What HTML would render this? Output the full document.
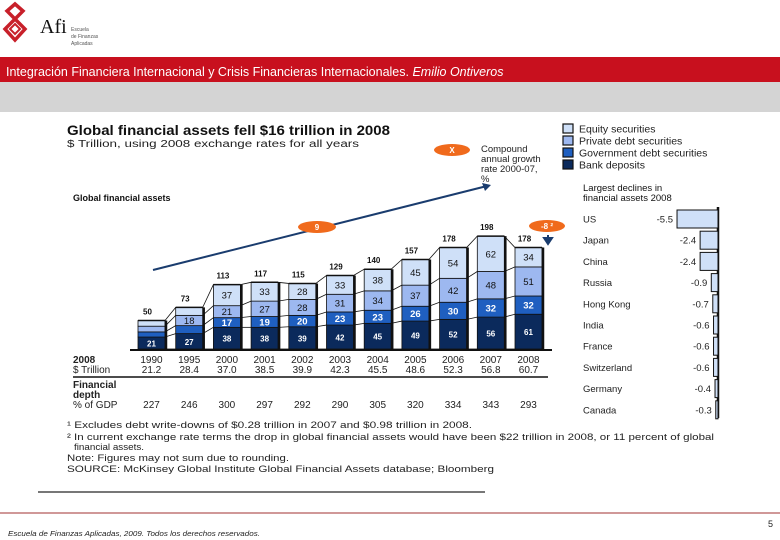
<!DOCTYPE html>
<html><head><meta charset="utf-8"><style>
html,body{margin:0;padding:0;width:780px;height:540px;overflow:hidden;background:#fff;font-family:"Liberation Sans",sans-serif}
svg{display:block}
</style></head><body>
<svg id="s" width="780" height="540" viewBox="0 0 780 540" xmlns="http://www.w3.org/2000/svg" font-family="Liberation Sans, sans-serif">
<g>
<path d="M15 4 L23 11 L15 19 L7 11 Z M15 19 L25 29 L15 40 L5 29 Z" fill="none" stroke="#c8202a" stroke-width="3.5"/>
<path d="M15 24 L20 29 L15 34 L10 29 Z" fill="none" stroke="#c8202a" stroke-width="2"/>
<text x="40" y="33" font-family="Liberation Serif, serif" font-size="20" fill="#111">Afi</text>
<text x="71" y="31" font-size="5" fill="#555">Escuela</text>
<text x="71" y="38" font-size="5" fill="#555">de Finanzas</text>
<text x="71" y="45" font-size="5" fill="#555">Aplicadas</text>
</g>
<rect x="0" y="57" width="780" height="25" fill="#c8101e"/>
<text x="6" y="76" font-size="12.5" fill="#fff">Integración Financiera Internacional y Crisis Financieras Internacionales. <tspan font-style="italic">Emilio Ontiveros</tspan></text>
<rect x="0" y="82" width="780" height="30" fill="#d4d4d4"/>

<text x="67" y="135" font-size="14" font-weight="bold" fill="#111" textLength="323" lengthAdjust="spacingAndGlyphs">Global financial assets fell $16 trillion in 2008</text>
<text x="67" y="147" font-size="10" fill="#222" textLength="292" lengthAdjust="spacingAndGlyphs">$ Trillion, using 2008 exchange rates for all years</text>
<text x="73" y="201" font-size="9" fill="#111" font-weight="bold">Global financial assets</text>

<g>
<line x1="153" y1="270" x2="487" y2="186" stroke="#1a3c6e" stroke-width="2"/>
<path d="M491 185 L482 183 L485 191 Z" fill="#1a3c6e"/>
</g>
<ellipse cx="317" cy="227" rx="19" ry="6" fill="#f06a1c"/>
<text x="317" y="230" font-size="8" font-weight="bold" fill="#fff" text-anchor="middle">9</text>
<ellipse cx="452" cy="150" rx="18" ry="6" fill="#f06a1c"/>
<text x="452" y="153" font-size="8" font-weight="bold" fill="#fff" text-anchor="middle">X</text>
<text x="481" y="152" font-size="9.5" fill="#222"><tspan x="481">Compound</tspan><tspan x="481" dy="10">annual growth</tspan><tspan x="481" dy="10">rate 2000-07,</tspan><tspan x="481" dy="10">%</tspan></text>
<ellipse cx="547" cy="226" rx="18" ry="6" fill="#f06a1c"/>
<text x="547" y="229" font-size="8" font-weight="bold" fill="#fff" text-anchor="middle">-8 ²</text>
<path d="M548 235 L548 241 M544 238 L548 244 L552 238 Z" stroke="#1a3c6e" fill="#1a3c6e" stroke-width="2"/>

<g id="bars"></g>
<g id="table"></g>

<g id="legend"></g>
<text x="583" y="191" font-size="9.5" fill="#111"><tspan x="583">Largest declines in</tspan><tspan x="583" dy="10">financial assets 2008</tspan></text>
<g id="hbars"></g>

<g font-size="9.5" fill="#222">
<text x="67" y="428" textLength="405" lengthAdjust="spacingAndGlyphs">¹ Excludes debt write-downs of $0.28 trillion in 2007 and $0.98 trillion in 2008.</text>
<text x="67" y="440" textLength="647" lengthAdjust="spacingAndGlyphs">² In current exchange rate terms the drop in global financial assets would have been $22 trillion in 2008, or 11 percent of global</text>
<text x="74" y="450" textLength="70" lengthAdjust="spacingAndGlyphs">financial assets.</text>
<text x="67" y="461" textLength="222" lengthAdjust="spacingAndGlyphs">Note: Figures may not sum due to rounding.</text>
<text x="67" y="472" textLength="427" lengthAdjust="spacingAndGlyphs">SOURCE: McKinsey Global Institute Global Financial Assets database; Bloomberg</text>
</g>
<line x1="38" y1="492" x2="485" y2="492" stroke="#777" stroke-width="2"/>
<line x1="0" y1="513" x2="780" y2="513" stroke="#a03030" stroke-width="1"/>
<text x="8" y="536" font-size="7.5" font-style="italic" fill="#222" textLength="252" lengthAdjust="spacingAndGlyphs">Escuela de Finanzas Aplicadas, 2009. Todos los derechos reservados.</text>
<text x="768" y="527" font-size="9" fill="#222">5</text>
</svg>
<script>
const years=["1990","1995","2000","2001","2002","2003","2004","2005","2006","2007","2008"];
const equity=[10,14,37,33,28,33,38,45,54,62,34];
const privateDebt=[10,18,21,27,28,31,34,37,42,48,51];
const govDebt=[9,14,17,19,20,23,23,26,30,32,32];
const bankDeposits=[21,27,38,38,39,42,45,49,52,56,61];
const gdp=["21.2","28.4","37.0","38.5","39.9","42.3","45.5","48.6","52.3","56.8","60.7"];
const depth=["227","246","300","297","292","290","305","320","334","343","293"];
const countries=["US","Japan","China","Russia","Hong Kong","India","France","Switzerland","Germany","Canada"];
const declines=[-5.5,-2.4,-2.4,-0.9,-0.7,-0.6,-0.6,-0.6,-0.4,-0.3];

const NS="http://www.w3.org/2000/svg";
function mk(p,tag,at){const e=document.createElementNS(NS,tag);for(const k in at)e.setAttribute(k,at[k]);p.appendChild(e);return e;}
const base=349, ppt=0.57, bw=27;
function xc(i){return 151.5+i*37.7;}
function yv(v){return base-v*ppt;}
const bars=document.getElementById('bars');
const series=[bankDeposits,govDebt,privateDebt,equity];
const cols=["#0b2a5c","#1f5fc0","#9db8f0","#cfe0f8"];
const tcol=["#fff","#fff","#111","#111"];
const names=["bank","gov","private","equity"];
let prevB=null;
mk(bars,'line',{x1:130,y1:base+1,x2:552,y2:base+1,stroke:'#111','stroke-width':2});
years.forEach((y,i)=>{
  let cum=0;const bounds=[0];
  series.forEach((s,k)=>{
    const y0=yv(cum),y1=yv(cum+s[i]);
    const r=mk(bars,'rect',{x:xc(i)-bw/2,y:y1,width:bw,height:y0-y1,fill:cols[k],stroke:'#111','stroke-width':0.8});
    
    
    if(k>=1 && (y0-y1)>8){const t=mk(bars,'text',{x:xc(i),y:(y0+y1)/2+3.5,'font-size':9.5,'text-anchor':'middle',fill:tcol[k],'font-weight':k<2?'bold':'normal'});t.textContent=s[i];}
    if(k==0 && (y0-y1)>8){const t=mk(bars,'text',{x:xc(i),y:(y0+y1)/2+3.5,'font-size':8,'text-anchor':'middle',fill:'#fff','font-weight':'bold'});t.textContent=s[i];}
    cum+=s[i];bounds.push(cum);
  });
  mk(bars,'line',{x1:xc(i)+bw/2+1,y1:yv(cum),x2:xc(i)+bw/2+1,y2:base,stroke:'#111','stroke-width':2.5});
  mk(bars,'line',{x1:xc(i)-bw/2,y1:yv(cum),x2:xc(i)+bw/2,y2:yv(cum),stroke:'#111','stroke-width':1.5});
  const tt=mk(bars,'text',{x:xc(i)-4,y:yv(cum)-6,'font-size':8,'font-weight':'bold',fill:'#111','text-anchor':'middle'});
  tt.textContent=Math.round(cum);
  if(prevB){prevB.forEach((b,k)=>{mk(bars,'line',{x1:xc(i-1)+bw/2,y1:yv(b),x2:xc(i)-bw/2,y2:yv(bounds[k]),stroke:'#111','stroke-width':0.8});});}
  prevB=bounds;
});
const tb=document.getElementById('table');
function tx(x,y,s,extra){const t=mk(tb,'text',Object.assign({x:x,y:y,'font-size':10,fill:'#222'},extra||{}));t.textContent=s;return t;}
tx(73,363,"2008",{'font-weight':'bold'});tx(73,373,"$ Trillion");
tx(73,388,"Financial",{'font-weight':'bold'});tx(73,398,"depth",{'font-weight':'bold'});tx(73,408,"% of GDP");
mk(tb,'line',{x1:73,y1:377,x2:548,y2:377,stroke:'#111','stroke-width':1.5});
years.forEach((y,i)=>{tx(xc(i),363,y,{'text-anchor':'middle'});tx(xc(i),373,gdp[i],{'text-anchor':'middle'});tx(xc(i),408,depth[i],{'text-anchor':'middle'});});
const lg=document.getElementById('legend');
const lnames=["Equity securities","Private debt securities","Government debt securities","Bank deposits"];
const lcols=[cols[3],cols[2],cols[1],cols[0]];
lnames.forEach((n,j)=>{
  const y=124+j*12;
  mk(lg,'rect',{x:563,y:y,width:10,height:9,fill:lcols[j],stroke:'#111','stroke-width':1.2});
  const t=mk(lg,'text',{x:579,y:y+8.5,'font-size':10.5,fill:'#222'});t.textContent=n;
});
const hb=document.getElementById('hbars');
const ax=718, pu=7.45, r0=219, rp=21.2;
mk(hb,'line',{x1:ax,y1:207,x2:ax,y2:418,stroke:'#111','stroke-width':2.5});
countries.forEach((c,i)=>{
  const yc=r0+i*rp, w=-declines[i]*pu;
  const r=mk(hb,'rect',{x:ax-w,y:yc-9,width:w,height:18,fill:'#cfe0f8',stroke:'#111','stroke-width':1});
  
  
  const t=mk(hb,'text',{x:583,y:yc+3.5,'font-size':9.5,fill:'#222'});t.textContent=c;
  const v=mk(hb,'text',{x:ax-w-4,y:yc+3.5,'font-size':9.5,fill:'#222','text-anchor':'end'});v.textContent=declines[i].toFixed(1);
});
</script>
</body></html>
